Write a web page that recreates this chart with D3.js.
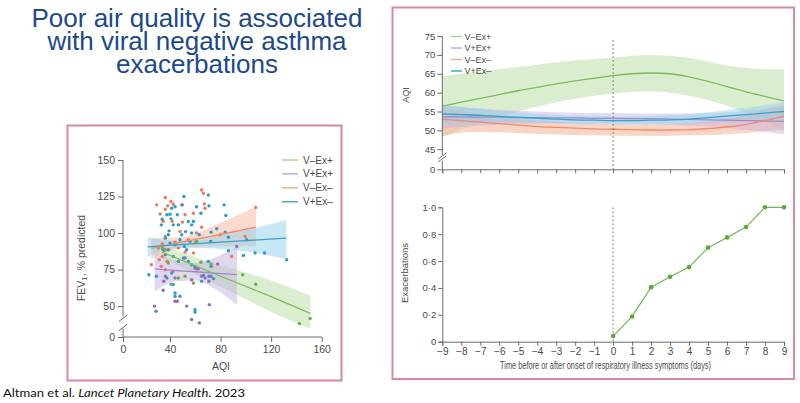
<!DOCTYPE html>
<html><head><meta charset="utf-8">
<script src="https://cdn.jsdelivr.net/npm/d3@7"></script>
<style>
html,body{margin:0;padding:0;background:#fff;}
svg{display:block;}
text{font-family:"Liberation Sans Narrow","Liberation Sans",Arial,sans-serif;}
</style></head>
<body>
<svg id="c" width="800" height="403"></svg>
<script>
// ---------- DATA ----------
const titleLines = ["Poor air quality is associated", "with viral negative asthma", "exacerbations"];
const seriesNames = ["V–Ex+", "V+Ex+", "V–Ex–", "V+Ex–"];

// Scatter (AQI, FEV1 % predicted)
const ptsVmExp = [[150.8,41.5],[142.4,38],[107.8,65],[97.5,71.5],[72.5,78.8],[64.5,80],[58.5,65.8],[40.8,65],[38.6,79.5],[36,88.6],[33.4,89.7],[46.6,69.2],[51.9,70.4],[61,94.3]];
const ptsVpExp = [[26.8,50],[34.2,60.8],[34.7,67],[36,70.4],[44,69.2],[44,53.3],[45.8,53.3],[53.2,50],[57.1,40.8],[63.2,38.5],[59.8,76],[61.1,75.6],[62.4,75.6],[65,70.4],[67.7,69.2],[70.8,70.4],[70.8,67],[71.1,51],[77.7,78.8],[49.8,119.3],[38.6,88.6],[51.9,82.9],[92.8,90.8],[57.1,68]];
const ptsVmExm = [[28.7,119.3],[36,124.3],[40.8,121.6],[38,118.6],[42.6,119.7],[49.8,107.5],[51.9,112.5],[58.5,113.6],[65,129.5],[66.4,127.2],[67.2,120],[31.6,113],[36,116.3],[34.2,108],[41.8,108],[47.9,101],[65,104],[36,97.7],[33.4,92.7],[30.2,89.7],[33.4,84],[30.8,81.7],[24.2,78.3],[35.3,88],[44,93.8],[46.6,89.7],[51.9,87],[58.5,86.3],[60,93.8],[54.5,95.4],[32.6,77.2],[37.4,80.6],[42.6,73.8],[79.6,98.8],[88.8,84],[99.4,97.7],[107.8,117.5],[67.7,117],[61,100],[36,74.9]];
const ptsVpExm = [[22,71.5],[28.1,46.5],[33.4,109.5],[32.6,105.6],[37.4,112.5],[40,112.9],[41.3,117],[51,125],[44,118],[46.6,105.6],[61,118],[64.5,113.6],[70.3,126],[70.8,118.6],[82.8,119.3],[84.2,112],[72.5,100.6],[77,102.9],[83.6,100.6],[86.2,97.2],[100.7,95.4],[72.2,94.3],[86.2,87.9],[98,84.7],[107.3,86.3],[114.7,86.3],[132.3,81.7],[70.3,80.6],[72.5,77.2],[72.5,70.4],[74.4,68.8],[36,96.5],[38.6,98.8],[40,93.1],[44,92],[47.9,95.4],[49.3,98.8],[51.4,90.8],[53.2,88.6],[55.8,94.3],[57.1,100],[57.1,105.6],[58.5,107.9],[54.5,107.9],[52.4,101],[40.8,109.7],[42.6,105.6],[39.2,101.5],[36,85.2],[42.6,84],[46.6,80.6],[50.6,82.9],[54.5,80.6],[57.1,78.3],[59.8,77.2],[41.3,72.6],[42.6,64.7],[44,59],[47.9,56.7],[44,56.7],[59.8,47.6],[59.8,46],[66.4,71],[65,67],[28.4,70.4],[37.4,69.2],[34.2,88.6],[63.2,98.8],[49.3,119.3],[45.8,112.5]];

// Regression fits: AQI, fit, lower, upper
const fitAqiVmExp = [33, 60, 90, 120, 151];
const fitVmExp    = [87, 77.5, 67, 56.5, 45];
const loVmExp     = [83, 72, 59, 46, 32];
const hiVmExp     = [91.5, 83.5, 75.5, 67.5, 57];
const fitAqiVpExp = [27, 45, 60, 75, 93];
const fitVpExp    = [75.5, 74.3, 73.5, 72.6, 71.5];
const loVpExp     = [60, 67, 67.5, 62, 51];
const hiVpExp     = [88, 81, 79.5, 83, 91];
const fitAqiVmExm = [24, 50, 80, 108];
const fitVmExm    = [89.5, 94, 99, 104];
const loVmExm     = [82, 90, 91, 91];
const hiVmExm     = [96.5, 97.5, 107, 118];
const fitAqiVpExm = [21, 50, 90, 132];
const fitVpExm    = [90.5, 92.2, 94.3, 96.5];
const loVpExm     = [84, 90, 88.5, 82];
const hiVpExm     = [97, 94.5, 100, 109];

// Time series (days relative to symptom onset)
const days = [-9,-8,-7,-6,-5,-4,-3,-2,-1,0,1,2,3,4,5,6,7,8,9];
const aqiVmExp   = [56.4,57.5,58.5,59.5,60.5,61.4,62.3,63.1,63.8,64.5,65,65.2,65,64.2,63,61.6,60.2,59,57.8];
const aqiVmExpHi = [64.3,65,65.6,66.2,66.8,67.4,68,68.5,68.9,69.3,69.8,70,69.8,69.2,68.2,67.2,66.5,66.2,66.2];
const aqiVmExpLo = [48.3,50.3,52,53.5,55,56.3,57.4,58.4,59.2,59.8,60.2,60.3,60,59.2,58,56.5,54.5,52.3,50];
const aqiVpExp   = [53.6,53.6,53.5,53.5,53.4,53.4,53.3,53.3,53.2,53.2,53.1,53.1,53,52.9,52.8,52.7,52.6,52.5,52.4];
const aqiVpExpHi = [56.5,56.2,55.8,55.5,55.2,55,54.8,54.7,54.6,54.6,54.5,54.5,54.5,54.5,54.6,54.8,55.2,55.7,56.3];
const aqiVpExpLo = [50.5,50.9,51.2,51.5,51.6,51.8,51.8,51.9,51.8,51.8,51.7,51.7,51.5,51.3,51,50.6,50.1,49.6,49];
const aqiVmExm   = [52.9,52.6,52.2,51.8,51.4,51,50.8,50.6,50.4,50.3,50.2,50.1,50.1,50.2,50.5,50.9,51.6,52.6,53.8];
const aqiVmExmHi = [56,55.2,54.4,53.7,53.1,52.6,52.3,52,51.8,51.7,51.6,51.6,51.7,51.9,52.3,53,54.2,55.5,57];
const aqiVmExmLo = [48.5,49.4,49.6,49.5,49.3,49.1,48.9,48.8,48.7,48.6,48.6,48.6,48.6,48.7,48.8,49,49.3,49.8,50.2];
const aqiVpExm   = [54.4,54.2,54,53.7,53.5,53.2,53,52.8,52.7,52.6,52.6,52.7,52.8,53,53.4,53.8,54.2,54.6,55];
const aqiVpExmHi = [56.8,56.2,55.7,55.2,54.8,54.4,54.1,53.9,53.8,53.7,53.7,53.8,54,54.3,54.8,55.4,56,56.7,57.5];
const aqiVpExmLo = [51.8,52,52.1,52.1,52.1,52,51.9,51.7,51.6,51.5,51.5,51.5,51.6,51.7,52,52.2,52.4,52.6,52.6];

const exDays = [0,1,2,3,4,5,6,7,8,9];
const exacerbations = [0.042,0.188,0.406,0.483,0.555,0.70,0.776,0.853,1.0,1.0];

const scatterXTicks = [0,40,80,120,160];
const scatterYTicks = [0,50,75,100,125,150];
const aqiYTicks = [0,45,50,55,60,65,70,75];
const exYTicks = [0,0.2,0.4,0.6,0.8,1.0];

// ---------- STYLE ----------
const C = {
  green:  {dot:"#64b246", line:"#7dbb5e", band:"#b7dca0", leg:"#a9d48e"},
  purple: {dot:"#9569c0", line:"#9f8cc8", band:"#c3b2e0", leg:"#c2acde"},
  orange: {dot:"#f0775a", line:"#ef8a6c", band:"#f7b79c", leg:"#f6aa90"},
  blue:   {dot:"#2a9cc6", line:"#37a3c9", band:"#8fd0ea", leg:"#45acd0"}
};
const axisCol = "#6b6b6b", txtCol = "#4a4a4a";

const svg = d3.select("#c");

// Title
const title = svg.append("text").attr("x",197).attr("y",27).attr("text-anchor","middle")
  .style("font-family","'Liberation Sans',Arial,sans-serif").style("font-size","26px").attr("fill","#1b4a8c");
titleLines.forEach((t,i)=> title.append("tspan").attr("x",197).attr("y",27+i*22.8).text(t));

// Citation
const cit = svg.append("text").attr("x",3).attr("y",397)
  .style("font-family","Lato,'Liberation Sans',sans-serif").style("font-size","12px").attr("fill","#111")
  .attr("textLength",242).attr("lengthAdjust","spacingAndGlyphs");
cit.append("tspan").text("Altman et al. ");
cit.append("tspan").style("font-style","italic").text("Lancet Planetary Health");
cit.append("tspan").text(". 2023");

// Boxes
svg.append("rect").attr("x",67.5).attr("y",125.5).attr("width",274).attr("height",255)
  .attr("fill","none").attr("stroke","#d58aa0").attr("stroke-width",2);
svg.append("rect").attr("x",392.5).attr("y",7.5).attr("width",401.5).attr("height",371.5)
  .attr("fill","none").attr("stroke","#d58aa0").attr("stroke-width",2);

function styleAxis(g, fs){
  g.selectAll("line").attr("stroke",axisCol);
  g.selectAll("path").attr("stroke",axisCol);
  g.selectAll("text").attr("fill",txtCol).style("font-size",fs+"px")
    .style("font-family","'Liberation Sans Narrow','Liberation Sans',Arial,sans-serif");
}
function brk(g, x, y1, y2){
  [y1,y2].forEach(y=> g.append("line").attr("x1",x-4).attr("y1",y+3).attr("x2",x+4).attr("y2",y-3)
    .attr("stroke",axisCol).attr("stroke-width",1));
}

// ---------- SCATTER ----------
const xS = d3.scaleLinear().domain([0,40,160]).range([123,170,321.7]);
const yS = d3.scaleLinear().domain([0,35,150]).range([337,328,160]);
const sc = svg.append("g");

const gx = sc.append("g").attr("transform",`translate(0,${yS(0)})`)
  .call(d3.axisBottom(xS).tickValues(scatterXTicks).tickSize(5).tickPadding(4));
gx.select(".domain").remove();
gx.append("line").attr("x1",xS(0)).attr("x2",xS(160)).attr("stroke",axisCol);
styleAxis(gx, 10.5);
const gy = sc.append("g").attr("transform",`translate(${xS(0)},0)`)
  .call(d3.axisLeft(yS).tickValues(scatterYTicks).tickSize(5).tickPadding(3));
gy.select(".domain").remove();
gy.append("line").attr("y1",yS(150)).attr("y2",yS(43)).attr("stroke",axisCol);
gy.append("line").attr("y1",yS(33)).attr("y2",yS(0)).attr("stroke",axisCol);
brk(gy, 0, yS(43)+2, yS(33)-1);
styleAxis(gy, 10.5);
sc.append("text").attr("x",221).attr("y",370).attr("text-anchor","middle").attr("fill",txtCol)
  .style("font-size","10.5px").text("AQI");
const yl = sc.append("text").attr("transform","translate(85,258) rotate(-90)").attr("text-anchor","middle")
  .attr("fill",txtCol).style("font-size","10.5px");
yl.append("tspan").text("FEV");
yl.append("tspan").attr("dy",2).style("font-size","8px").text("1");
yl.append("tspan").attr("dy",-2).text(", % predicted");

const fits = [
  {xs:fitAqiVmExp, f:fitVmExp, lo:loVmExp, hi:hiVmExp, c:C.green},
  {xs:fitAqiVpExp, f:fitVpExp, lo:loVpExp, hi:hiVpExp, c:C.purple},
  {xs:fitAqiVmExm, f:fitVmExm, lo:loVmExm, hi:hiVmExm, c:C.orange},
  {xs:fitAqiVpExm, f:fitVpExm, lo:loVpExm, hi:hiVpExm, c:C.blue}
];
fits.forEach(s=>{
  const rows = s.xs.map((x,i)=>({x, f:s.f[i], lo:s.lo[i], hi:s.hi[i]}));
  sc.append("path").datum(rows).attr("fill",s.c.band).attr("opacity",0.5)
    .attr("d",d3.area().x(d=>xS(d.x)).y0(d=>yS(d.lo)).y1(d=>yS(d.hi)).curve(d3.curveMonotoneX));
});
const pts = [{p:ptsVmExm,c:C.orange},{p:ptsVpExm,c:C.blue},{p:ptsVpExp,c:C.purple},{p:ptsVmExp,c:C.green}];
pts.forEach(s=> sc.append("g").selectAll("circle").data(s.p).join("circle")
  .attr("cx",d=>xS(d[0])).attr("cy",d=>yS(d[1])).attr("r",1.7).attr("fill",s.c.dot));
fits.forEach(s=>{
  const rows = s.xs.map((x,i)=>({x, f:s.f[i]}));
  sc.append("path").datum(rows).attr("fill","none").attr("stroke",s.c.line).attr("stroke-width",1.3)
    .attr("d",d3.line().x(d=>xS(d.x)).y(d=>yS(d.f)));
});
const legCols = [C.green.leg, C.purple.leg, C.orange.leg, C.blue.leg];
seriesNames.forEach((n,i)=>{
  const y = 160 + i*13.9;
  sc.append("line").attr("x1",282).attr("x2",298).attr("y1",y).attr("y2",y).attr("stroke",legCols[i]).attr("stroke-width",1.5);
  sc.append("text").attr("x",303).attr("y",y+3.5).attr("fill",txtCol).style("font-size","10px").text(n);
});

// ---------- RIGHT TOP (AQI over time) ----------
const xT = d3.scaleLinear().domain([-9,9]).range([442.3,784]);
const yT = d3.scaleLinear().domain([0,42,75]).range([169.3,160.6,36]);
const tp = svg.append("g");
const bands = [
  {m:aqiVmExp, lo:aqiVmExpLo, hi:aqiVmExpHi, c:C.green, op:0.5},
  {m:aqiVmExm, lo:aqiVmExmLo, hi:aqiVmExmHi, c:C.orange, op:0.6},
  {m:aqiVpExp, lo:aqiVpExpLo, hi:aqiVpExpHi, c:C.purple, op:0.45},
  {m:aqiVpExm, lo:aqiVpExmLo, hi:aqiVpExmHi, c:C.blue, op:0.45}
];
bands.forEach(b=>{
  const rows = days.map((d,i)=>({d, lo:b.lo[i], hi:b.hi[i]}));
  tp.append("path").datum(rows).attr("fill",b.c.band).attr("opacity",b.op)
    .attr("d",d3.area().x(r=>xT(r.d)).y0(r=>yT(r.lo)).y1(r=>yT(r.hi)).curve(d3.curveCatmullRom));
});
[bands[2],bands[1],bands[3],bands[0]].forEach(b=>{
  tp.append("path").datum(days.map((d,i)=>({d, v:b.m[i]}))).attr("fill","none")
    .attr("stroke",b.c.line).attr("stroke-width",1.3)
    .attr("d",d3.line().x(r=>xT(r.d)).y(r=>yT(r.v)).curve(d3.curveCatmullRom));
});
const tx = tp.append("g").attr("transform",`translate(0,${yT(0)})`)
  .call(d3.axisBottom(xT).tickValues(days).tickSize(4).tickFormat(""));
styleAxis(tx, 9);
const ty = tp.append("g").attr("transform",`translate(${xT(-9)},0)`)
  .call(d3.axisLeft(yT).tickValues(aqiYTicks).tickSize(5).tickPadding(2));
ty.select(".domain").remove();
ty.append("line").attr("y1",yT(75)).attr("y2",yT(43.5)).attr("stroke",axisCol);
ty.append("line").attr("y1",yT(41)).attr("y2",yT(0)).attr("stroke",axisCol);
brk(ty, 0, yT(43.5)+1, yT(41)-2);
styleAxis(ty, 9.5);
tp.append("line").attr("x1",xT(0)).attr("x2",xT(0)).attr("y1",40).attr("y2",yT(0))
  .attr("stroke","#777").attr("stroke-dasharray","2,2").attr("stroke-width",0.9);
tp.append("text").attr("transform","translate(409,95) rotate(-90)").attr("text-anchor","middle")
  .attr("fill",txtCol).style("font-size","9px").text("AQI");
seriesNames.forEach((n,i)=>{
  const y = 36.5 + i*11.5;
  tp.append("line").attr("x1",451).attr("x2",462).attr("y1",y).attr("y2",y).attr("stroke",legCols[i]).attr("stroke-width",1.5);
  tp.append("text").attr("x",464.5).attr("y",y+3).attr("fill",txtCol).style("font-size","9px").text(n);
});

// ---------- RIGHT BOTTOM (Exacerbations) ----------
const yB = d3.scaleLinear().domain([0,1]).range([341.7,207.3]);
const bt = svg.append("g");
const bx = bt.append("g").attr("transform",`translate(0,${yB(0)})`)
  .call(d3.axisBottom(xT).tickValues(days).tickSize(4).tickPadding(2));
styleAxis(bx, 10);
const fmt = v => v===0 ? "0" : d3.format(".1f")(v).replace(".","·");
const by = bt.append("g").attr("transform",`translate(${xT(-9)},0)`)
  .call(d3.axisLeft(yB).tickValues(exYTicks).tickSize(4).tickPadding(2).tickFormat(fmt));
styleAxis(by, 9.5);
bt.append("line").attr("x1",xT(0)).attr("x2",xT(0)).attr("y1",yB(1)).attr("y2",yB(0))
  .attr("stroke","#777").attr("stroke-dasharray","2,2").attr("stroke-width",0.9);
const exRows = exDays.map((d,i)=>({d, v:exacerbations[i]}));
bt.append("path").datum(exRows).attr("fill","none").attr("stroke","#72b553").attr("stroke-width",1.2)
  .attr("d",d3.line().x(r=>xT(r.d)).y(r=>yB(r.v)));
bt.selectAll("circle").data(exRows).join("circle").attr("cx",r=>xT(r.d)).attr("cy",r=>yB(r.v))
  .attr("r",2.3).attr("fill","#5aa93a");
bt.append("text").attr("x",605.5).attr("y",369).attr("text-anchor","middle").attr("fill",txtCol)
  .style("font-size","10px").attr("textLength",211).attr("lengthAdjust","spacingAndGlyphs")
  .text("Time before or after onset of respiratory illness symptoms (days)");
bt.append("text").attr("transform","translate(408,273) rotate(-90)").attr("text-anchor","middle")
  .attr("fill",txtCol).style("font-size","9.5px").text("Exacerbations");
</script>
</body></html>
